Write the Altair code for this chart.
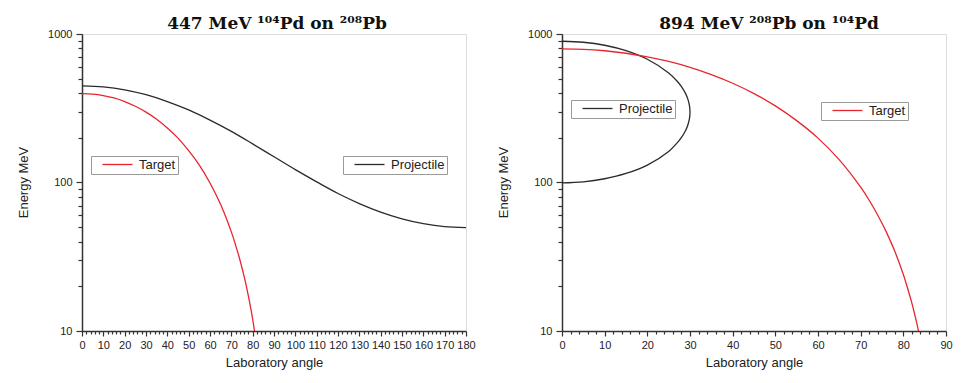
import altair as alt
import pandas as pd

# ---------------- data ----------------
# Left panel: 447 MeV 104Pd on 208Pb
left_proj_angle = [0, 10, 20, 30, 40, 50, 60, 70, 80, 90, 100, 110, 120, 130, 140, 150, 160, 170, 180]
left_proj_energy = [447, 440, 421, 390, 351, 308, 263, 221, 182, 149, 122, 101, 84.3, 72.1, 63.2, 56.9, 52.8, 50.4, 49.7]

left_targ_angle = [0, 5, 10, 15, 20, 25, 30, 35, 40, 45, 50, 55, 60, 65, 70, 72, 74, 76, 78, 79, 80, 81]
left_targ_energy = [397, 394, 385, 371, 351, 326, 298, 267, 233, 199, 164, 131, 99.3, 71.0, 46.5, 37.9, 30.2, 23.3, 17.2, 14.5, 12.0, 9.7]

# Right panel: 894 MeV 208Pb on 104Pd (projectile curve is double valued)
right_proj_angle = [0, 5, 10, 15, 20, 25, 27, 28, 29, 29.5, 29.9, 30,
                    29.9, 29.5, 29, 28, 27, 25, 20, 15, 10, 5, 0]
right_proj_energy = [894, 880, 840, 772, 676, 547, 481, 442, 395, 364, 326, 298,
                     272, 244, 225, 201, 185, 162, 131, 115, 106, 101, 99.3]

right_targ_angle = [0, 5, 10, 15, 20, 25, 30, 35, 40, 45, 50, 55, 60, 65, 70, 72, 75, 76, 78, 80, 81, 82, 83, 83.6]
right_targ_energy = [795, 789, 771, 742, 702, 653, 596, 533, 466, 397, 328, 261, 199, 142, 93.0, 75.9, 53.2, 46.5, 34.4, 24.0, 19.4, 15.4, 11.8, 9.87]

titles = ["447 MeV \u00b9\u2070\u2074Pd on \u00b2\u2070\u2078Pb", "894 MeV \u00b2\u2070\u2078Pb on \u00b9\u2070\u2074Pd"]
x_title = "Laboratory angle"
y_title = "Energy MeV"

BLACK = "#2a2a2a"
RED = "#e8252d"
FONT = "Liberation Sans"

y_values = [10, 20, 30, 40, 50, 60, 70, 80, 90, 100, 200, 300, 400, 500, 600, 700, 800, 900, 1000]


def frame(angles, energies, series):
    return pd.DataFrame({"angle": angles, "energy": energies, "series": series, "order": list(range(len(angles)))})


def x_axis(maxv):
    return alt.Axis(
        title=x_title, values=list(range(0, maxv + 1, 2)),
        labelExpr="datum.value % 10 === 0 ? datum.value : ''",
        tickSize={"condition": {"test": "datum.value % 10 === 0", "value": 5}, "value": 3},
        labelFlush=False, labelOverlap=False, grid=False,
        domainColor="#333", domainWidth=1.5, tickColor="#333", tickWidth=1.2,
        labelFont=FONT, labelFontSize=11, labelColor="#222", labelPadding=3,
        titleFont=FONT, titleFontSize=13, titleFontWeight="normal", titleColor="#222", titlePadding=6,
    )


def y_axis():
    return alt.Axis(
        title=y_title, values=y_values,
        labelExpr="(datum.value == 10 || datum.value == 100 || datum.value == 1000) ? datum.value : ''",
        tickSize={"condition": {"test": "datum.value == 10 || datum.value == 100 || datum.value == 1000", "value": 6}, "value": 4},
        labelOverlap=False, grid=False,
        domainColor="#333", domainWidth=1.5, tickColor="#333", tickWidth=1.2,
        labelFont=FONT, labelFontSize=11, labelColor="#222", labelPadding=4,
        titleFont=FONT, titleFontSize=13, titleFontWeight="normal", titleColor="#222",
        titleX=-52, titleY=148, titleAngle=270, titleBaseline="bottom",
        minExtent=40, maxExtent=40,
    )


def legend(lx, ly):
    return alt.Legend(
        orient="none", legendX=lx, legendY=ly, title=None,
        strokeColor="#9a9a9a", fillColor="white", padding=2,
        symbolType="M-3,0H3", symbolSize=100, symbolStrokeWidth=1.3, symbolOffset=18,
        labelFont=FONT, labelFontSize=13, labelColor="#222", labelOffset=15,
        labelExpr="datum.label + '\u00a0\u00a0'",
    )


def layer_line(df, color, name, xmax, lx, ly):
    return alt.Chart(df).mark_line(clip=True, strokeWidth=1.3, interpolate="catmull-rom").encode(
        x=alt.X("angle:Q", scale=alt.Scale(domain=[0, xmax], nice=False, zero=False), axis=x_axis(xmax)),
        y=alt.Y("energy:Q", scale=alt.Scale(type="log", domain=[10, 1000], nice=False), axis=y_axis()),
        order="order:Q",
        color=alt.Color("series:N", scale=alt.Scale(domain=[name], range=[color]), legend=legend(lx, ly)),
    )


W, H = 384, 297

left = alt.layer(
    layer_line(frame(left_proj_angle, left_proj_energy, "Projectile"), BLACK, "Projectile", 180, 261, 122),
    layer_line(frame(left_targ_angle, left_targ_energy, "Target"), RED, "Target", 180, 9, 122),
).resolve_scale(color="independent").properties(
    width=W, height=H,
    title=alt.TitleParams(titles[0], font="DejaVu Serif", fontSize=17, fontWeight="bold", color="#111",
                          anchor="middle", offset=0, dx=3, dy=5),
)

right = alt.layer(
    layer_line(frame(right_proj_angle, right_proj_energy, "Projectile"), BLACK, "Projectile", 90, 9, 66),
    layer_line(frame(right_targ_angle, right_targ_energy, "Target"), RED, "Target", 90, 259, 68),
).resolve_scale(color="independent").properties(
    width=W, height=H,
    title=alt.TitleParams(titles[1], font="DejaVu Serif", fontSize=17, fontWeight="bold", color="#111",
                          anchor="middle", offset=0, dx=15, dy=5),
)

chart = alt.hconcat(left, right, spacing=96, bounds="flush").properties(
    padding={"left": 8, "top": 6, "right": 0, "bottom": 0},
).configure_view(stroke=None).configure(background="white")

chart.save("out.html", embed_options={"renderer": "svg", "actions": False})
